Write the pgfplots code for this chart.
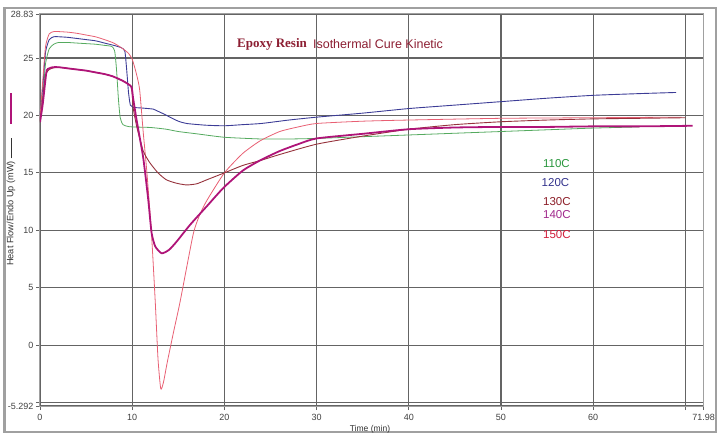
\documentclass[border=0pt]{standalone}
\usepackage{pgfplots}
\pgfplotsset{compat=1.18}
\usepackage{fontspec}
\setmainfont{Liberation Sans}
\newfontfamily\serifbold{Liberation Serif}
\definecolor{c110}{RGB}{85,170,95}
\definecolor{c120}{RGB}{60,60,150}
\definecolor{c130}{RGB}{150,50,60}
\definecolor{c140}{RGB}{175,20,120}
\definecolor{c150}{RGB}{232,95,115}
\definecolor{t110}{RGB}{40,150,60}
\definecolor{t120}{RGB}{50,50,140}
\definecolor{t130}{RGB}{140,30,40}
\definecolor{t140}{RGB}{160,40,140}
\definecolor{t150}{RGB}{210,30,60}
\definecolor{ttl}{RGB}{140,30,50}
\definecolor{gridc}{RGB}{100,100,100}
\definecolor{framec}{RGB}{160,160,160}
\begin{document}
\begin{tikzpicture}
\useasboundingbox (0,0) rectangle (719pt,434pt);
\draw[framec, line width=2.5pt] (4.5pt,2pt) rectangle (716pt,426pt);
\begin{axis}[
  at={(40pt,28pt)}, anchor=south west,
  scale only axis, width=663.6pt, height=392pt,
  xmin=0, xmax=71.98, ymin=-5.292, ymax=28.83,
  xtick={0,10,20,30,40,50,60,70,71.98},
  xticklabels={0,10,20,30,40,50,60,,71.98},
  ytick={-5.292,-5,0,5,10,15,20,25,28.83},
  yticklabels={-5.292,,0,5,10,15,20,25,28.83},
  /pgf/number format/assume math mode=true,
  tick label style={font=\fontsize{9}{10}\selectfont, text=black!75},
  xticklabel style={yshift=-1pt},
  yticklabel style={xshift=1pt},
  grid=major,
  major grid style={gridc, line width=1.2pt},
  axis line style={framec, line width=1pt},
  tick align=outside, tick pos=left,
  major tick length=4pt,
  tick style={gridc, line width=0.8pt},
  every axis plot/.append style={smooth, tension=0.35},
  clip=true,
]
\addplot[c110, line width=0.8pt] coordinates {
(0,19.4) (0.3,21.5) (0.6,24.5) (1.0,25.8) (1.5,26.2) (2,26.35) (3,26.35) (4,26.3) (5,26.25) (6,26.2) (7,26.1) (7.8,26.0) (8.1,25.6) (8.3,24.0) (8.5,21.5) (8.7,19.8) (9.0,19.2) (9.5,19.05) (10,19.0) (12,18.95) (13.7,18.8) (15,18.6) (17,18.4) (20,18.1) (24,17.95) (27,17.95) (30,18.0) (35,18.15) (40,18.3) (45,18.45) (50,18.6) (55,18.75) (60,18.9) (65,19.0)
};
\addplot[c120, line width=0.9pt] coordinates {
(0,20.0) (0.3,22.5) (0.6,25.5) (1.0,26.6) (1.5,26.85) (2,26.85) (3,26.8) (4,26.7) (5,26.6) (6,26.5) (7,26.3) (8,26.1) (8.8,25.9) (9.2,25.6) (9.4,24.0) (9.6,22.0) (9.8,20.9) (10.1,20.7) (11,20.65) (12.3,20.55) (12.7,20.4) (13.5,20.1) (14.1,19.85) (15,19.5) (15.9,19.3) (18,19.15) (20,19.1) (22,19.2) (24,19.3) (27,19.6) (30,19.85) (35,20.2) (40,20.6) (45,20.9) (50,21.2) (55,21.5) (60,21.75) (65,21.9) (69,22.0)
};
\addplot[c150, line width=0.8pt] coordinates {
(0,19.8) (0.3,23) (0.6,26) (1.0,27.1) (1.5,27.3) (2,27.3) (3,27.25) (4,27.15) (5,27.0) (6,26.85) (7,26.6) (8,26.3) (9,25.8) (9.6,25.4) (10,24.9) (10.4,23.8) (10.8,22.3) (11.2,18.5) (11.6,15) (12.1,9.6) (12.5,3.8) (12.8,-1.2) (13.1,-3.8) (13.4,-3.2) (13.8,-1.5) (14.5,1.2) (15.2,3.8) (16.6,9.6) (17.3,11.3) (18.1,12.6) (20,15.0) (22,16.7) (23.9,17.8) (26,18.6) (28,19.0) (30,19.3) (35,19.5) (40,19.6) (50,19.75) (60,19.8) (69.6,19.85)
};
\addplot[c130, line width=0.9pt] coordinates {
(0,19.5) (0.3,21.5) (0.6,23.5) (1.0,24.0) (1.5,24.15) (2,24.2) (3,24.1) (4,24.0) (5,23.9) (6,23.75) (7,23.6) (7.9,23.4) (9,23.0) (9.9,22.5) (10.1,20.7) (10.5,19.0) (11.2,16.9) (11.9,15.9) (12.8,15.0) (13.7,14.4) (14.8,14.1) (15.9,13.95) (17,14.05) (18.1,14.4) (20,15.0) (22,15.65) (24,16.1) (26,16.6) (30,17.5) (35,18.2) (40,18.8) (45,19.2) (50,19.45) (55,19.6) (60,19.7) (65,19.75) (70,19.8)
};
\addplot[c140, line width=1.8pt] coordinates {
(0,19.4) (0.3,21) (0.7,23.8) (1.0,24.1) (1.4,24.2) (2,24.2) (3,24.1) (4,24.0) (5,23.9) (6,23.75) (7,23.6) (7.9,23.4) (9,23.0) (9.9,22.5) (10.1,21.5) (10.5,19.5) (11.2,16.3) (11.75,12.6) (12.1,9.8) (12.5,8.6) (13.2,8.0) (14,8.3) (14.8,9.0) (16.3,10.5) (18.1,12.1) (19.9,13.7) (22,15.2) (23.9,16.1) (26,16.9) (28,17.5) (30,18.0) (35,18.4) (40,18.8) (45,18.95) (50,19.0) (55,19.0) (60,19.05) (65,19.05) (70.8,19.1)
};
\node[anchor=base west, font=\serifbold\bfseries\fontsize{13}{14}\selectfont, text=ttl] at (axis cs:21.0,25.9) {Epoxy Resin};
\node[anchor=base west, font=\fontsize{12.5}{14}\selectfont, text=ttl, inner sep=0pt] at (axis cs:29.6,25.85) {Isothermal Cure Kinetic};
\node[anchor=west, inner sep=0pt, font=\fontsize{11.5}{13}\selectfont, text=t110] at (axis cs:54.55,15.83) {110C};
\node[anchor=west, inner sep=0pt, font=\fontsize{11.5}{13}\selectfont, text=t120] at (axis cs:54.4,14.17) {120C};
\node[anchor=west, inner sep=0pt, font=\fontsize{11.5}{13}\selectfont, text=t130] at (axis cs:54.55,12.52) {130C};
\node[anchor=west, inner sep=0pt, font=\fontsize{11.5}{13}\selectfont, text=t140] at (axis cs:54.55,11.39) {140C};
\node[anchor=west, inner sep=0pt, font=\fontsize{11.5}{13}\selectfont, text=t150] at (axis cs:54.55,9.65) {150C};
\end{axis}
\node[rotate=90, font=\fontsize{9.2}{10}\selectfont, text=black!80] at (11pt,232pt) {Heat Flow/Endo Up (mW) \rule[0.3ex]{2.2em}{0.5pt}};
\draw[c140, line width=1.6pt] (11pt,310pt) -- (11pt,341pt);
\node[font=\fontsize{8.5}{9}\selectfont, text=black!80] at (370pt,5pt) {Time (min)};
\end{tikzpicture}
\end{document}
